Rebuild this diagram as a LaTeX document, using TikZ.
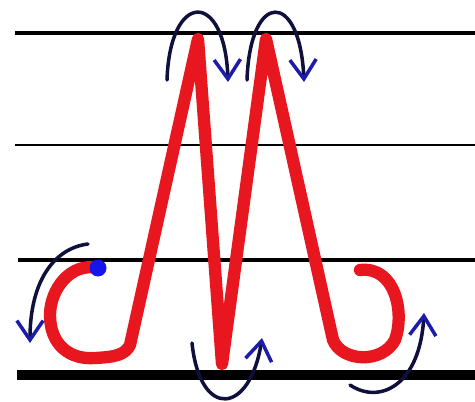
\documentclass[tikz,border=0pt]{standalone}
\usetikzlibrary{arrows.meta}

\definecolor{inkred}{RGB}{232,22,30}
\definecolor{inknavy}{RGB}{16,16,60}
\definecolor{tipblue}{RGB}{28,28,170}
\definecolor{dotblue}{RGB}{20,20,235}

\begin{document}
\begin{tikzpicture}[
    x=0.02cm, y=-0.02cm,
    guide/.style={draw=black,line width=#1},
    letter/.style={draw=inkred,line width=7pt,line cap=round,line join=round},
    move/.style={draw=inknavy,line width=2pt,line cap=round,
        -{Straight Barb[length=11pt,width=15pt,color=tipblue,line width=2pt]}}
]
\useasboundingbox (0,0) rectangle (475,401);

% Guide lines
\draw[guide=2.2pt] (15,33)  -- (475,33);
\draw[guide=1.1pt] (15,145) -- (475,145);
\draw[guide=2.2pt] (18,260) -- (475,260);
\draw[guide=6.2pt] (17,375) -- (475,375);

% Letter M
\draw[letter] (98,268) .. controls (70,262) and (50,290) .. (50,315)
    .. controls (50,345) and (70,360) .. (95,358)
    .. controls (115,357) and (125,355) .. (130,345)
    -- (198,39) -- (222,364) -- (266,39) -- (333,340)
    .. controls (342,362) and (382,364) .. (395,340)
    .. controls (405,312) and (395,266) .. (360,270);

% Start point
\fill[dotblue] (98,268) circle (8.5);

% Pen movements
\draw[move] (88,244) .. controls (55,248) and (30,280) .. (30,343);
\draw[move] (167,80) .. controls (170,-10) and (225,-10) .. (228,82);
\draw[move] (247,80) .. controls (250,-10) and (300,-10) .. (304,82);
\draw[move] (192,343) .. controls (200,420) and (250,415) .. (262,338);
\draw[move] (350,385) .. controls (380,405) and (420,385) .. (424,313);

\end{tikzpicture}
\end{document}
